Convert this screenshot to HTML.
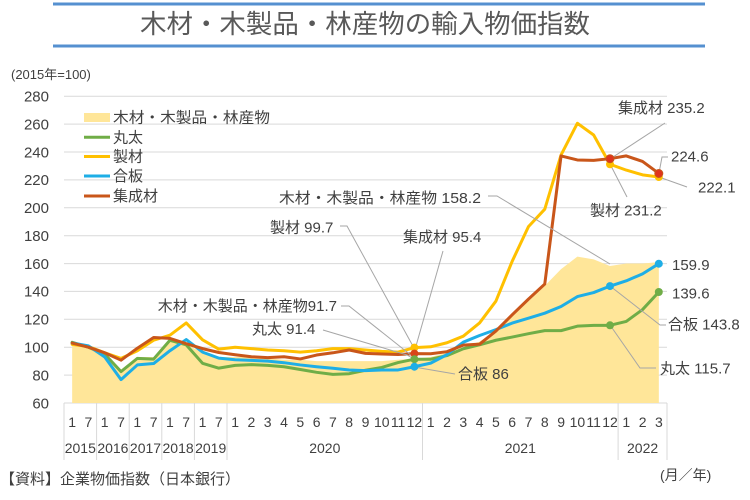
<!DOCTYPE html>
<html><head><meta charset="utf-8"><style>
html,body{margin:0;padding:0;background:#fff;}
svg{display:block;font-family:"Liberation Sans","Noto Sans CJK JP",sans-serif;}
</style></head><body>
<svg width="750" height="500" viewBox="0 0 750 500" xmlns="http://www.w3.org/2000/svg">
<rect width="750" height="500" fill="#fff"/>
<!-- title -->
<line x1="53" y1="4" x2="705" y2="4" stroke="#5590D0" stroke-width="3"/>
<line x1="53" y1="46" x2="705" y2="46" stroke="#5590D0" stroke-width="3"/>
<text x="365" y="33" font-size="26" fill="#595959" text-anchor="middle" textLength="450" lengthAdjust="spacingAndGlyphs">木材・木製品・林産物の輸入物価指数</text>
<text x="11" y="79" font-size="13" fill="#404040">(2015年=100)</text>

<!-- gridlines -->
<g stroke="#d9d9d9" stroke-width="1">
<line x1="64" x2="667" y1="96.2" y2="96.2"/>
<line x1="64" x2="667" y1="124.1" y2="124.1"/>
<line x1="64" x2="667" y1="152" y2="152"/>
<line x1="64" x2="667" y1="179.9" y2="179.9"/>
<line x1="64" x2="667" y1="207.8" y2="207.8"/>
<line x1="64" x2="667" y1="235.7" y2="235.7"/>
<line x1="64" x2="667" y1="263.6" y2="263.6"/>
<line x1="64" x2="667" y1="291.4" y2="291.4"/>
<line x1="64" x2="667" y1="319.3" y2="319.3"/>
<line x1="64" x2="667" y1="347.2" y2="347.2"/>
<line x1="64" x2="667" y1="375.1" y2="375.1"/>
<line x1="64" x2="667" y1="403" y2="403"/>
</g>
<g font-size="15" fill="#404040" text-anchor="end">
<text x="49" y="101.5">280</text>
<text x="49" y="129.4">260</text>
<text x="49" y="157.3">240</text>
<text x="49" y="185.2">220</text>
<text x="49" y="213.1">200</text>
<text x="49" y="241">180</text>
<text x="49" y="268.9">160</text>
<text x="49" y="296.7">140</text>
<text x="49" y="324.6">120</text>
<text x="49" y="352.5">100</text>
<text x="49" y="380.4">80</text>
<text x="49" y="408.3">60</text>
</g>

<!-- series -->
<g transform="matrix(16.297 0 0 -1.3945 72.15 486.67)">
<polygon fill="#FFE699" stroke="none" points="0,60 0,103 1,100 2,95 3,84 4,93 5,93 6,104 7,102 8,96 9,93 10,93 11,93 12,92 13,91 14,91 15,90 16,90 17,90 18,90 19,90 20,91 21,91.7 22,93 23,96 24,100 25,104 26,112 27,122 28,133 29,144 30,156 31,165 32,163 33,158.2 34,160 35,160 36,161 36,60"/>
<polyline fill="none" stroke="#70AD47" stroke-width="3" vector-effect="non-scaling-stroke" stroke-linejoin="round" stroke-linecap="round" points="0,103.5 1,100 2,95 3,82.5 4,92 5,91.5 6,105 7,101.7 8,88.5 9,85 10,87 11,87.5 12,87 13,86 14,84 15,82 16,80.5 17,81 18,83.5 19,85.5 20,89 21,91.4 22,91.4 23,94 24,98.9 25,101.7 26,105 27,107.3 28,109.7 29,111.9 30,111.9 31,115.1 32,115.7 33,115.7 34,118.5 35,127 36,139.6"/>
<polyline fill="none" stroke="#FFC000" stroke-width="3" vector-effect="non-scaling-stroke" stroke-linejoin="round" stroke-linecap="round" points="0,102 1,100.5 2,96 3,92 4,97.5 5,105 6,108.6 7,117.4 8,105.3 9,98.6 10,100 11,99 12,98 13,97.5 14,96.5 15,97.5 16,99 17,99 18,98 19,97 20,96.5 21,99.7 22,100.3 23,103.2 24,107.9 25,117.4 26,133 27,161.6 28,186.5 29,199 30,237.9 31,260.6 32,252.2 33,231.2 34,227 35,223.6 36,222.1"/>
<polyline fill="none" stroke="#1EAEE6" stroke-width="3" vector-effect="non-scaling-stroke" stroke-linejoin="round" stroke-linecap="round" points="0,103 1,101 2,93 3,76.8 4,87.3 5,88.3 6,97.5 7,105.5 8,96.5 9,92.2 10,91 11,90.6 12,90 13,88.9 14,87.3 15,86 16,84.9 17,83.7 18,83.2 19,83.7 20,83.7 21,86 22,88.6 23,94.7 24,103.6 25,108.4 26,112.6 27,117.3 28,120.8 29,124.4 30,129.2 31,136.3 32,139.2 33,143.8 34,147.6 35,152.6 36,159.9"/>
<polyline fill="none" stroke="#C9561A" stroke-width="3" vector-effect="non-scaling-stroke" stroke-linejoin="round" stroke-linecap="round" points="0,103 1,100 2,96 3,90.7 4,99.3 5,107 6,106.3 7,102.5 8,99 9,96.2 10,94.6 11,93.2 12,92.5 13,93.2 14,91.6 15,94.4 16,96 17,98 18,95.6 19,95.1 20,94.8 21,95.4 22,95.3 23,96.8 24,101.5 25,102.2 26,111.6 27,123.2 28,134.5 29,145.3 30,237.2 31,234.3 32,234 33,235.2 34,237.2 35,233.2 36,224.6"/>
</g>

<!-- leader lines -->
<g stroke="#a6a6a6" stroke-width="1" fill="none">
<polyline points="610,159 665,123"/>
<polyline points="659,173 662,157 668,157"/>
<polyline points="659,177 687,187"/>
<polyline points="610,164 627,197"/>
<polyline points="488,196 497,196 610,264"/>
<polyline points="340,226 347,226 414,348"/>
<polyline points="443,251 414,353"/>
<polyline points="341,306 349,306 412,356"/>
<polyline points="323,330 407,355 414,359"/>
<polyline points="414,367 455,374"/>
<polyline points="610,286 660,325 666,325"/>
<polyline points="610,325 640,368 656,368"/>
</g>

<!-- markers -->
<g>
<circle cx="414.4" cy="347.6" r="4" fill="#FFC000"/>
<circle cx="414.4" cy="353.6" r="4" fill="#D9441A"/>
<circle cx="414.4" cy="359.2" r="4" fill="#70AD47"/>
<circle cx="414.4" cy="366.7" r="4" fill="#1EAEE6"/>
<circle cx="610" cy="164.3" r="4" fill="#FFC000"/>
<circle cx="610" cy="158.7" r="4" fill="#E0341C" stroke="#C9561A" stroke-width="1"/>
<circle cx="610" cy="286.1" r="4" fill="#1EAEE6"/>
<circle cx="610" cy="325.3" r="4" fill="#70AD47"/>
<circle cx="658.8" cy="177" r="4" fill="#FFC000"/>
<circle cx="658.8" cy="173.5" r="4" fill="#E0341C" stroke="#C9561A" stroke-width="1"/>
<circle cx="658.8" cy="263.7" r="4" fill="#1EAEE6"/>
<circle cx="658.8" cy="292" r="4" fill="#70AD47"/>
</g>

<!-- annotations -->
<g font-size="15" fill="#404040">
<text x="618" y="113">集成材 235.2</text>
<text x="671" y="161.5">224.6</text>
<text x="698" y="192.5">222.1</text>
<text x="590" y="215.5">製材 231.2</text>
<text x="279" y="203" textLength="202" lengthAdjust="spacingAndGlyphs">木材・木製品・林産物 158.2</text>
<text x="270" y="232.5">製材 99.7</text>
<text x="403" y="242">集成材 95.4</text>
<text x="337" y="311" text-anchor="end">木材・木製品・林産物91.7</text>
<text x="252" y="334">丸太 91.4</text>
<text x="458" y="379">合板 86</text>
<text x="672" y="270">159.9</text>
<text x="672" y="298.5">139.6</text>
<text x="668" y="329.5">合板 143.8</text>
<text x="660" y="373.5">丸太 115.7</text>
</g>

<!-- legend -->
<rect x="84" y="113" width="26" height="9" fill="#FFE699"/>
<line x1="84" x2="110" y1="137.3" y2="137.3" stroke="#70AD47" stroke-width="3"/>
<line x1="84" x2="110" y1="156.5" y2="156.5" stroke="#FFC000" stroke-width="3"/>
<line x1="84" x2="110" y1="176" y2="176" stroke="#1EAEE6" stroke-width="3"/>
<line x1="84" x2="110" y1="196" y2="196" stroke="#C9561A" stroke-width="3"/>
<g font-size="15" fill="#404040">
<text x="113" y="122.5" textLength="157" lengthAdjust="spacingAndGlyphs">木材・木製品・林産物</text>
<text x="113" y="142.5">丸太</text>
<text x="113" y="161.5">製材</text>
<text x="113" y="181">合板</text>
<text x="113" y="201">集成材</text>
</g>

<!-- x axis separators -->
<g stroke="#d9d9d9" stroke-width="1">
<line x1="64" x2="64" y1="403" y2="460"/>
<line x1="96.6" x2="96.6" y1="403" y2="460"/>
<line x1="129.2" x2="129.2" y1="403" y2="460"/>
<line x1="161.8" x2="161.8" y1="403" y2="460"/>
<line x1="194.4" x2="194.4" y1="403" y2="460"/>
<line x1="227" x2="227" y1="403" y2="460"/>
<line x1="422.5" x2="422.5" y1="403" y2="460"/>
<line x1="618.1" x2="618.1" y1="403" y2="460"/>
<line x1="667" x2="667" y1="403" y2="460"/>
</g>
<g font-size="14" fill="#404040" text-anchor="middle">
<text x="72.2" y="427">1</text><text x="88.4" y="427">7</text>
<text x="104.7" y="427">1</text><text x="121" y="427">7</text>
<text x="137.3" y="427">1</text><text x="153.6" y="427">7</text>
<text x="169.9" y="427">1</text><text x="186.2" y="427">7</text>
<text x="202.5" y="427">1</text><text x="218.8" y="427">7</text>
<text x="235.1" y="427">1</text><text x="251.4" y="427">2</text><text x="267.7" y="427">3</text><text x="284" y="427">4</text><text x="300.3" y="427">5</text><text x="316.6" y="427">6</text><text x="332.9" y="427">7</text><text x="349.2" y="427">8</text><text x="365.5" y="427">9</text><text x="381.8" y="427">10</text><text x="398.1" y="427">11</text><text x="414.4" y="427">12</text>
<text x="430.7" y="427">1</text><text x="447" y="427">2</text><text x="463.3" y="427">3</text><text x="479.6" y="427">4</text><text x="495.9" y="427">5</text><text x="512.2" y="427">6</text><text x="528.5" y="427">7</text><text x="544.8" y="427">8</text><text x="561.1" y="427">9</text><text x="577.4" y="427">10</text><text x="593.7" y="427">11</text><text x="610" y="427">12</text>
<text x="626.3" y="427">1</text><text x="642.6" y="427">2</text><text x="658.9" y="427">3</text>
<text x="80.3" y="453">2015</text>
<text x="112.9" y="453">2016</text>
<text x="145.5" y="453">2017</text>
<text x="178.1" y="453">2018</text>
<text x="210.7" y="453">2019</text>
<text x="324.8" y="453">2020</text>
<text x="520.3" y="453">2021</text>
<text x="642.6" y="453">2022</text>
</g>

<text x="0" y="484" font-size="15" fill="#404040" textLength="240" lengthAdjust="spacingAndGlyphs">【資料】企業物価指数（日本銀行）</text>
<text x="660" y="480" font-size="14" fill="#404040">(月／年)</text>
</svg>
</body></html>
